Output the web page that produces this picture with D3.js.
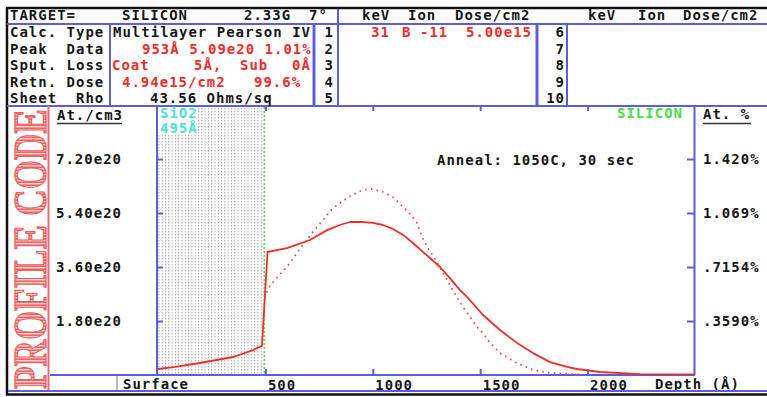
<!DOCTYPE html>
<html>
<head>
<meta charset="utf-8">
<script src="https://cdn.jsdelivr.net/npm/d3@7"></script>
<style>
  body { margin: 0; background: #fff; }
  svg { display: block; }
  text { font-family: "DejaVu Sans Mono", monospace; font-weight: bold; font-size: 14px; letter-spacing: 1px; }
</style>
</head>
<body>
<svg id="chart" width="767" height="397"></svg>
<script>
// annealed profile (solid), depth in Angstrom, concentration in at/cm3
const annealedDepth = [0, 80, 195, 350, 442, 484, 510, 600, 708, 787, 847, 894, 950, 1001, 1047, 1094, 1141, 1187, 1229, 1266, 1313, 1359, 1406, 1443, 1513, 1592, 1671, 1746, 1825, 1904, 1951, 2058, 2244, 2500];
const annealedConc = [2.0e19, 2.7e19, 4.0e19, 6.0e19, 8.3e19, 9.7e19, 4.1e20, 4.23e20, 4.5e20, 4.83e20, 5.0e20, 5.1e20, 5.1e20, 5.07e20, 5.0e20, 4.87e20, 4.67e20, 4.4e20, 4.13e20, 3.9e20, 3.6e20, 3.23e20, 2.83e20, 2.57e20, 2.0e20, 1.5e20, 1.07e20, 7.3e19, 4.3e19, 2.7e19, 2.0e19, 1.0e19, 3e18, 2e18];

// as-implanted Pearson IV profile (dotted)
const implantDepth = [505, 521, 545, 600, 647, 717, 768, 815, 847, 903, 954, 1001, 1047, 1099, 1122, 1155, 1178, 1206, 1220, 1238, 1262, 1290, 1313, 1341, 1364, 1392, 1420, 1485, 1513, 1546, 1592, 1671, 1746, 1825, 1965];
const implantConc = [2.75e20, 2.97e20, 3.17e20, 3.6e20, 4.07e20, 4.73e20, 5.17e20, 5.57e20, 5.73e20, 6.0e20, 6.17e20, 6.2e20, 6.1e20, 5.9e20, 5.73e20, 5.5e20, 5.33e20, 5.07e20, 4.77e20, 4.47e20, 4.17e20, 3.87e20, 3.57e20, 3.23e20, 2.93e20, 2.6e20, 2.27e20, 1.6e20, 1.4e20, 1.07e20, 7.3e19, 4.0e19, 1.7e19, 7e18, 2e18];

const oxideThickness = 495;
const xTicks = [500, 1000, 1500, 2000];
const yTicks = [1.8e20, 3.6e20, 5.4e20, 7.2e20];
const rightLabels = [".3590%", ".7154%", "1.069%", "1.420%"];

const blue = "#5d5dd8", red = "#ee2e2e", ink = "#161616";

const svg = d3.select("#chart");
const defs = svg.append("defs");

const stip = defs.append("pattern").attr("id", "stip")
  .attr("patternUnits", "userSpaceOnUse").attr("width", 3.3).attr("height", 3);
stip.append("rect").attr("width", 1).attr("height", 1.5).attr("fill", "#a4a4a4");

const stripes = defs.append("pattern").attr("id", "stripes")
  .attr("patternUnits", "userSpaceOnUse").attr("width", 3).attr("height", 3);
stripes.append("rect").attr("width", 3).attr("height", 3).attr("fill", "#fbd6d6");
stripes.append("rect").attr("width", 1.6).attr("height", 3).attr("fill", "#ef6464");

const x = d3.scaleLinear().domain([0, 2500]).range([158, 695]);
const y = d3.scaleLinear().domain([0, 9e20]).range([375, 105]);

// ---- header table ----
const hline = (x1, x2, yy, c, w) => svg.append("line").attr("x1", x1).attr("x2", x2)
  .attr("y1", yy).attr("y2", yy).attr("stroke", c).attr("stroke-width", w);
const vline = (xx, y1, y2, c, w) => svg.append("line").attr("x1", xx).attr("x2", xx)
  .attr("y1", y1).attr("y2", y2).attr("stroke", c).attr("stroke-width", w);

hline(6, 767, 8, "#111", 2.5);
vline(7, 8, 395, "#111", 2.5);
hline(7, 767, 24, blue, 2);
hline(7, 767, 106, blue, 2);
vline(110, 24, 106, blue, 2);
vline(314, 24, 106, blue, 3);
vline(338, 9, 106, blue, 2);
vline(537, 24, 106, blue, 3);
vline(567, 24, 106, blue, 2);

const rowY = [15, 32, 48.5, 65, 81.5, 98];
const hText = (t, xx, row, color, anchor) => svg.append("text")
  .attr("x", xx).attr("y", rowY[row] + 5).attr("fill", color || ink)
  .attr("text-anchor", anchor || "start").text(t);

hText("TARGET=", 10, 0); hText("SILICON", 122, 0); hText("2.33G", 244, 0); hText("7°", 309, 0);
hText("keV", 362, 0); hText("Ion", 408, 0); hText("Dose/cm2", 455, 0);
hText("keV", 588, 0); hText("Ion", 638, 0); hText("Dose/cm2", 683, 0);

["Calc. Type", "Peak  Data", "Sput. Loss", "Retn. Dose", "Sheet  Rho"].forEach((t, i) => hText(t.replace(/ /g, "\u00a0"), 10, i + 1));

hText("Multilayer Pearson IV", 113, 1);
hText("953Å 5.09e20 1.01%", 142, 2, red);
hText("Coat", 112, 3, red); hText("5Å,", 194, 3, red); hText("Sub", 240, 3, red); hText("0Å", 292, 3, red);
hText("4.94e15/cm2", 122, 4, red); hText("99.6%", 254, 4, red);
hText("43.56 Ohms/sq", 150, 5);

[1, 2, 3, 4, 5].forEach((n, i) => hText(String(n), 334, i + 1, ink, "end"));
[6, 7, 8, 9, 10].forEach((n, i) => hText(String(n), 565, i + 1, ink, "end"));
hText("31", 371, 1, red); hText("B", 402, 1, red); hText("-11", 420, 1, red); hText("5.00e15", 466, 1, red);

// ---- side banner ----
svg.append("text")
  .attr("transform", "translate(46,249) rotate(-90)")
  .attr("text-anchor", "middle")
  .attr("textLength", 280).attr("lengthAdjust", "spacingAndGlyphs")
  .style("font-family", "'Liberation Serif', serif").style("font-size", "46px").style("letter-spacing", "0px")
  .attr("fill", "url(#stripes)").attr("stroke", "#ee5c5c").attr("stroke-width", 1.2)
  .text("PROFILE CODE");
vline(48.5, 106, 391, "#ee6a6a", 2);

// ---- plot area ----
svg.append("rect").attr("x", x(0) - 1).attr("y", 107)
  .attr("width", x(oxideThickness) - x(0) + 1).attr("height", y(0) - 107)
  .attr("fill", "url(#stip)");
svg.append("rect").attr("x", 158).attr("y", 107).attr("width", 40).attr("height", 27).attr("fill", "#fff");
vline(x(oxideThickness), 107, 375, "#55d655", 1.5).attr("stroke-dasharray", "2,2");

svg.append("text").attr("x", 160).attr("y", 118).attr("fill", "#4fdede").text("SiO2");
svg.append("text").attr("x", 160).attr("y", 133).attr("fill", "#4fdede").text("495Å");
svg.append("text").attr("x", 617).attr("y", 118).attr("fill", "#47dd47").text("SILICON");
svg.append("text").attr("x", 437).attr("y", 165).attr("fill", ink).text("Anneal: 1050C, 30 sec");

svg.append("text").attr("x", 57).attr("y", 120).attr("fill", ink).text("At./cm3");
hline(57, 122, 123.5, "#333", 1.5);
svg.append("text").attr("x", 703).attr("y", 119).attr("fill", ink).text("At. %");
hline(703, 751, 123.5, "#333", 1.5);

const fmtE = d => d3.format(".2e")(d).replace("+", "");

svg.append("g").attr("transform", "translate(157,0)")
  .call(d3.axisLeft(y).tickValues(yTicks).tickSizeInner(-6).tickSizeOuter(0).tickPadding(35).tickFormat(fmtE))
  .call(g => g.select(".domain").remove())
  .call(g => g.selectAll(".tick line").attr("stroke", blue).attr("stroke-width", 2))
  .call(g => g.selectAll("text").attr("fill", ink));

svg.append("g").attr("transform", "translate(694,0)")
  .call(d3.axisRight(y).tickValues(yTicks).tickSizeInner(-7).tickSizeOuter(0).tickPadding(9)
    .tickFormat((d, i) => rightLabels[i]))
  .call(g => g.select(".domain").remove())
  .call(g => g.selectAll(".tick line").attr("stroke", blue).attr("stroke-width", 2))
  .call(g => g.selectAll("text").attr("fill", ink));

svg.append("g").attr("transform", "translate(0,375)")
  .call(d3.axisBottom(x).tickValues(xTicks).tickSizeInner(-6).tickSizeOuter(0).tickPadding(5).tickFormat(d3.format("d")))
  .call(g => g.select(".domain").remove())
  .call(g => g.selectAll(".tick line").attr("stroke", blue).attr("stroke-width", 2))
  .call(g => g.selectAll("text").attr("fill", ink).attr("text-anchor", "start").attr("dx", 2));

svg.append("g").attr("transform", "translate(0,106)")
  .call(d3.axisTop(x).tickValues(xTicks).tickSizeInner(-5).tickSizeOuter(0).tickFormat(""))
  .call(g => g.select(".domain").remove())
  .call(g => g.selectAll(".tick line").attr("stroke", blue).attr("stroke-width", 2));

svg.append("text").attr("x", 123).attr("y", 389).attr("fill", ink).text("Surface");
svg.append("text").attr("x", 655).attr("y", 389).attr("fill", ink).text("Depth (Å)");

// frame lines
vline(157, 106, 375, blue, 2);
vline(694.5, 106, 375, blue, 2);
hline(50, 695, 375, blue, 2);
vline(117, 375, 391, "#777", 1);
hline(8, 767, 391, blue, 2);
hline(6, 767, 394.5, "#111", 2.5);

// curves
const line = d3.line().x(d => x(d[0])).y(d => y(d[1]));
svg.append("path")
  .datum(d3.zip(implantDepth, implantConc))
  .attr("fill", "none").attr("stroke", "#f04a4a").attr("stroke-width", 1.8)
  .attr("stroke-dasharray", "1.6,4.2").attr("d", line);
svg.append("path")
  .datum(d3.zip(annealedDepth, annealedConc))
  .attr("fill", "none").attr("stroke", red).attr("stroke-width", 1.8)
  .attr("stroke-linejoin", "round").attr("d", line);
</script>
</body>
</html>
